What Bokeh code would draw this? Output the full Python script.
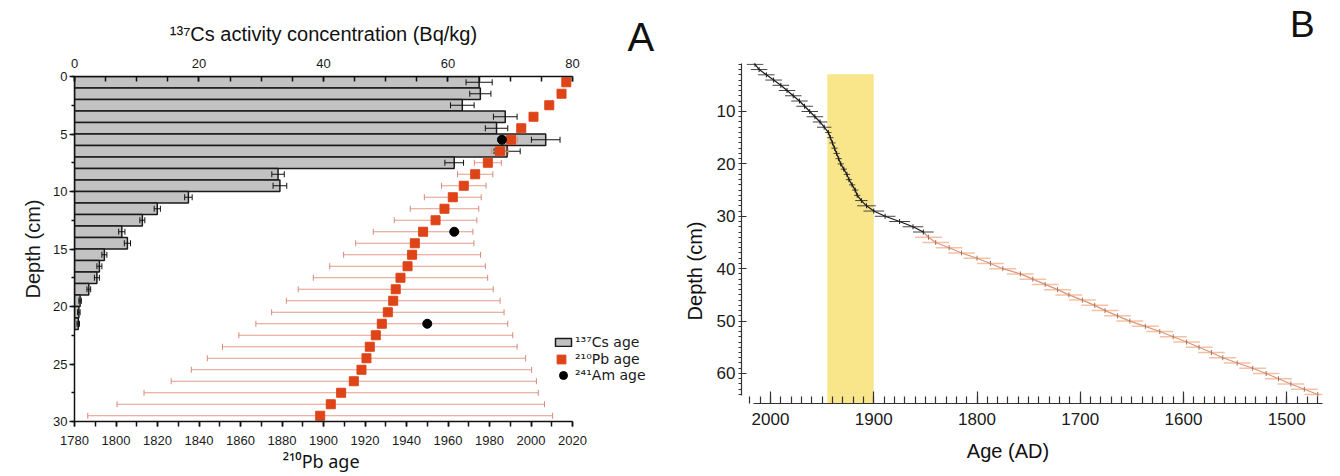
import math
from bokeh.plotting import figure
from bokeh.models import (Range1d, LinearAxis, SingleIntervalTicker, FixedTicker,
                          ColumnDataSource, Legend, LegendItem, BoxAnnotation)
from bokeh.layouts import row, column
from bokeh.embed import file_html
from bokeh.resources import INLINE

FONT = "Liberation Sans"
SUP_FONT = "Noto Sans"
LEG_FONT = "DejaVu Sans"

# ---------------- Panel A data ----------------
cs_depth = [0.5, 1.5, 2.5, 3.5, 4.5, 5.5, 6.5, 7.5, 8.5, 9.5, 10.5,
            11.5, 12.5, 13.5, 14.5, 15.5, 16.5, 17.5, 18.5, 19.5, 20.5, 21.5]
cs_activity = [65.0, 65.2, 62.3, 69.2, 67.8, 75.7, 69.5, 61.0, 32.7, 33.0, 18.3,
               13.3, 10.9, 7.6, 8.5, 4.8, 4.0, 3.6, 2.3, 0.9, 0.7, 0.6]
cs_err = [2.1, 1.7, 1.9, 1.9, 1.8, 2.3, 2.1, 1.5, 1.0, 1.1, 0.6,
          0.5, 0.4, 0.5, 0.5, 0.4, 0.4, 0.4, 0.3, 0.2, 0.2, 0.2]

pb_depth = [0.5, 1.5, 2.5, 3.5, 4.5, 5.5, 6.5, 7.5, 8.5, 9.5, 10.5, 11.5, 12.5, 13.5, 14.5,
            15.5, 16.5, 17.5, 18.5, 19.5, 20.5, 21.5, 22.5, 23.5, 24.5, 25.5, 26.5, 27.5, 28.5, 29.5]
pb_age = [2017.0, 2014.7, 2008.8, 2001.2, 1995.3, 1990.4, 1985.0, 1979.2, 1973.1, 1967.6,
          1962.3, 1958.3, 1954.0, 1948.0, 1944.0, 1942.7, 1940.5, 1937.1, 1934.8, 1933.6,
          1931.0, 1928.1, 1925.2, 1922.3, 1920.7, 1918.3, 1914.6, 1908.5, 1903.5, 1898.4]
pb_err = [0.5, 0.8, 1.0, 1.5, 2.0, 3.0, 4.0, 6.5, 8.5, 10.7, 13.7, 16.5, 19.9, 24.0, 28.5,
          33.0, 37.5, 42.0, 47.0, 51.5, 56.0, 60.7, 66.0, 71.0, 76.7, 82.0, 88.0, 95.0, 103.0, 112.0]

am_depth = [5.5, 13.5, 21.5]
am_age = [1986, 1963, 1950]

# ---------------- Panel B data ----------------
b_depth = [0.3, 1, 2, 3, 4, 5, 6, 7, 8, 9, 10, 11, 12, 13, 14, 15, 16, 17, 18, 19, 20,
           21, 22, 23, 24, 25, 26, 27, 28, 29, 30, 31, 32, 33, 34, 35, 36, 37, 38, 39, 40,
           41, 42, 43, 44, 45, 46, 47, 48, 49, 50, 51, 52, 53, 54, 55, 56, 57, 58, 59, 60,
           61, 62, 63, 64]
b_age = [2017, 2015, 2011, 2004, 1997, 1990, 1984, 1978, 1972, 1967, 1962, 1957, 1952, 1948,
         1944, 1942, 1940, 1938, 1936, 1934, 1932, 1929, 1926, 1924, 1921, 1918, 1916, 1912,
         1907, 1900, 1889, 1875, 1862, 1852, 1847, 1840, 1827, 1815, 1800, 1787, 1775, 1758,
         1746, 1734, 1722, 1711, 1698, 1686, 1676, 1664, 1652, 1637, 1623, 1610, 1597, 1585,
         1573, 1562, 1548, 1533, 1520, 1508, 1496, 1483, 1470]
b_err = [8, 8, 8, 8, 8, 8, 8, 8, 8, 8, 8, 8, 7, 7,
         3, 3, 3, 3, 3, 3, 3, 3, 3, 3, 3, 3, 3,
         6, 9, 10, 10, 10, 10, 10,
         13, 13, 13, 13, 13, 13, 13, 13, 13, 13, 13, 13, 13, 13, 13, 13, 13, 13, 13, 13,
         13, 13, 13, 13, 13, 13, 13, 13, 13, 13, 13]
b_split_index = 33          # last point of the black (upper) segment
band_years = [1945, 1900]   # highlighted interval
band_top_depth = 2.9

# ---------------- helpers ----------------
def style_axis(ax, label_size, color="#111111", lw=1.5):
    ax.axis_line_color = color
    ax.axis_line_width = lw
    ax.major_tick_line_color = color
    ax.major_tick_line_width = lw
    ax.minor_tick_line_color = color
    ax.minor_tick_line_width = lw
    ax.major_label_text_font = FONT
    ax.major_label_text_font_size = label_size
    ax.major_label_text_color = "#1a1a1a"
    ax.axis_label_text_font = FONT
    ax.axis_label_text_font_style = "normal"
    ax.axis_label_text_color = "#1a1a1a"


def text_axis(text, tick, size, standoff, font=FONT, x_range_name="default",
              y_range_name="default", orientation="horizontal"):
    """An axis without line or ticks that carries one text at a chosen tick."""
    return LinearAxis(ticker=FixedTicker(ticks=[tick]),
                      x_range_name=x_range_name, y_range_name=y_range_name,
                      major_label_overrides={tick: text},
                      major_label_orientation=orientation,
                      axis_line_color=None, major_tick_line_color=None,
                      minor_tick_line_color=None, major_tick_out=0, major_tick_in=0,
                      minor_tick_out=0, minor_tick_in=0,
                      major_label_standoff=standoff,
                      major_label_text_font=font, major_label_text_font_size=size,
                      major_label_text_color="#111111")


# ================= Panel A =================
# frame: x 74..660 (axes bounded to 0..80 / 1780..2020), y 76..421
pA = figure(width=660, height=476, output_backend="svg", toolbar_location=None,
            x_range=Range1d(0, 94.14), y_range=Range1d(30, 0), x_axis_location="above",
            min_border_left=74, min_border_right=0, min_border_top=76, min_border_bottom=55)
pA.extra_x_ranges = {"yr": Range1d(1780, 2062.4)}
pA.grid.visible = False
pA.outline_line_color = None

top_ax = pA.xaxis[0]
top_ax.ticker = SingleIntervalTicker(interval=20, num_minor_ticks=4)
top_ax.bounds = (0, 80)
style_axis(top_ax, "13px")
top_ax.major_tick_in = 5
top_ax.major_tick_out = 0
top_ax.minor_tick_in = 5
top_ax.minor_tick_out = 0
top_ax.major_label_standoff = 9

left_ax = pA.yaxis[0]
left_ax.ticker = SingleIntervalTicker(interval=5, num_minor_ticks=2)
style_axis(left_ax, "13px")
left_ax.major_tick_in = 0
left_ax.major_tick_out = 5
left_ax.minor_tick_in = 0
left_ax.minor_tick_out = 3
left_ax.major_label_standoff = 2
left_ax.axis_label = "Depth (cm)"
left_ax.axis_label_text_font_size = "20px"
left_ax.axis_label_standoff = 6

bot_ax = LinearAxis(x_range_name="yr", ticker=SingleIntervalTicker(interval=20, num_minor_ticks=2),
                    bounds=(1780, 2020))
style_axis(bot_ax, "13px")
bot_ax.major_tick_in = 0
bot_ax.major_tick_out = 5
bot_ax.minor_tick_in = 0
bot_ax.minor_tick_out = 5
bot_ax.major_label_standoff = 9
pA.add_layout(bot_ax, "below")

# axis titles and panel letter, each centred where the reference has it
pA.add_layout(text_axis("¹³⁷Cs activity concentration (Bq/kg)", 40, "20px", 11), "above")
pA.add_layout(text_axis("A", 91, "40px", -39), "above")
pA.add_layout(text_axis("²¹⁰Pb  age", 1900, "18px", 1, font=SUP_FONT, x_range_name="yr"), "below")

cs_src = ColumnDataSource(dict(
    d=cs_depth, v=cs_activity,
    lo=[v - e for v, e in zip(cs_activity, cs_err)],
    hi=[v + e for v, e in zip(cs_activity, cs_err)]))
r_bar = pA.hbar(y="d", left=0, right="v", height=1, source=cs_src,
                fill_color="#c2c2c2", line_color="#1a1a1a", line_width=1.5)
pA.segment(x0="lo", y0="d", x1="hi", y1="d", source=cs_src, line_color="#111111", line_width=1)
pA.scatter(x="lo", y="d", source=cs_src, marker="dash", angle=math.pi / 2, size=6,
           line_color="#111111", line_width=1)
pA.scatter(x="hi", y="d", source=cs_src, marker="dash", angle=math.pi / 2, size=6,
           line_color="#111111", line_width=1)

pb_src = ColumnDataSource(dict(
    d=pb_depth, a=pb_age,
    lo=[a - e for a, e in zip(pb_age, pb_err)],
    hi=[a + e for a, e in zip(pb_age, pb_err)]))
pA.segment(x0="lo", y0="d", x1="hi", y1="d", source=pb_src, x_range_name="yr",
           line_color="#e29a88", line_width=1.2)
pA.scatter(x="lo", y="d", source=pb_src, x_range_name="yr", marker="dash",
           angle=math.pi / 2, size=6, line_color="#d98a78", line_width=1)
pA.scatter(x="hi", y="d", source=pb_src, x_range_name="yr", marker="dash",
           angle=math.pi / 2, size=6, line_color="#d98a78", line_width=1)
r_pb = pA.scatter(x="a", y="d", source=pb_src, x_range_name="yr", marker="square", size=9,
                  fill_color="#df4419", line_color="#df4419")

am_src = ColumnDataSource(dict(d=am_depth, a=am_age))
r_am = pA.scatter(x="a", y="d", source=am_src, x_range_name="yr", marker="circle", size=9,
                  fill_color="black", line_color="black")


def make_legend(label, rend, loc, gw, gh, standoff):
    lg = Legend(items=[LegendItem(label=label, renderers=[rend])], location=loc,
                glyph_width=gw, glyph_height=gh, label_height=gh, label_standoff=standoff,
                padding=0, margin=0, spacing=0, border_line_alpha=0,
                background_fill_alpha=0, label_text_font=LEG_FONT,
                label_text_font_size="14px", label_text_color="#1a1a1a")
    pA.add_layout(lg, "center")


make_legend("¹³⁷Cs age", r_bar, (479, 71), 20, 10, 2)
make_legend("²¹⁰Pb age", r_pb, (476, 51), 22, 22, 3)
make_legend("²⁴¹Am age", r_am, (479, 36), 20, 20, 2)

# ================= Panel B =================
# frame: x 741..1322, y 63..403 (depth scale 5.24 px/cm, 0 cm at y=58.6)
pB = figure(width=680, height=476, output_backend="svg", toolbar_location=None,
            x_range=Range1d(2028.1, 1465.4), y_range=Range1d(65.73, 0.84),
            min_border_left=81, min_border_right=18, min_border_top=59, min_border_bottom=73)
pB.grid.visible = False
pB.outline_line_color = None

pB.add_layout(BoxAnnotation(left=band_years[0], right=band_years[1], top=band_top_depth,
                            fill_color="#f9e68a", fill_alpha=1.0, line_color=None,
                            level="underlay"))

bx = pB.xaxis[0]
bx.ticker = FixedTicker(ticks=[2000, 1900, 1800, 1700, 1600, 1500],
                        minor_ticks=list(range(1470, 2021, 10)))
bx.bounds = (1465.4, 2016.8)
style_axis(bx, "17px", color="#333333", lw=1.2)
bx.major_tick_in = 12
bx.major_tick_out = 0
bx.minor_tick_in = 7
bx.minor_tick_out = 0
bx.major_label_standoff = 9

by = pB.yaxis[0]
by.ticker = FixedTicker(ticks=[10, 20, 30, 40, 50, 60], minor_ticks=list(range(1, 65)))
by.bounds = (0.9, 64.2)
style_axis(by, "17px", color="#333333", lw=1.2)
by.major_tick_in = 5
by.major_tick_out = 2
by.minor_tick_in = 0
by.minor_tick_out = 3
by.major_label_standoff = 3

pB.add_layout(text_axis("B", 1485, "37px", 19), "above")
pB.add_layout(text_axis("Age (AD)", 1770, "20px", 12), "below")
pB.add_layout(text_axis("Depth (cm)", 31, "20px", 18, orientation=math.pi / 2), "left")

k = b_split_index
blk = ColumnDataSource(dict(d=b_depth[:k + 1], a=b_age[:k + 1],
                            lo=[a - e for a, e in zip(b_age[:k + 1], b_err[:k + 1])],
                            hi=[a + e for a, e in zip(b_age[:k + 1], b_err[:k + 1])]))
org = ColumnDataSource(dict(d=b_depth[k + 1:], a=b_age[k + 1:],
                            lo=[a - e for a, e in zip(b_age[k + 1:], b_err[k + 1:])],
                            hi=[a + e for a, e in zip(b_age[k + 1:], b_err[k + 1:])]))

pB.segment(x0="lo", y0="d", x1="hi", y1="d", source=org, line_color="#f3c2a6", line_width=1.5)
pB.line(x=b_age[k:], y=b_depth[k:], line_color="#d9977a", line_width=1.2)
pB.scatter(x="a", y="d", source=org, marker="dash", angle=math.pi / 2, size=5,
           line_color="#b06e50", line_width=1)

pB.segment(x0="lo", y0="d", x1="hi", y1="d", source=blk, line_color="#444444", line_width=1)
pB.line(x="a", y="d", source=blk, line_color="#1a1a1a", line_width=1.2)
pB.scatter(x="a", y="d", source=blk, marker="dash", angle=math.pi / 2, size=5,
           line_color="#1a1a1a", line_width=1)

layout = row(column(pA), column(pB))
open("out.html", "w").write(file_html(layout, INLINE))
